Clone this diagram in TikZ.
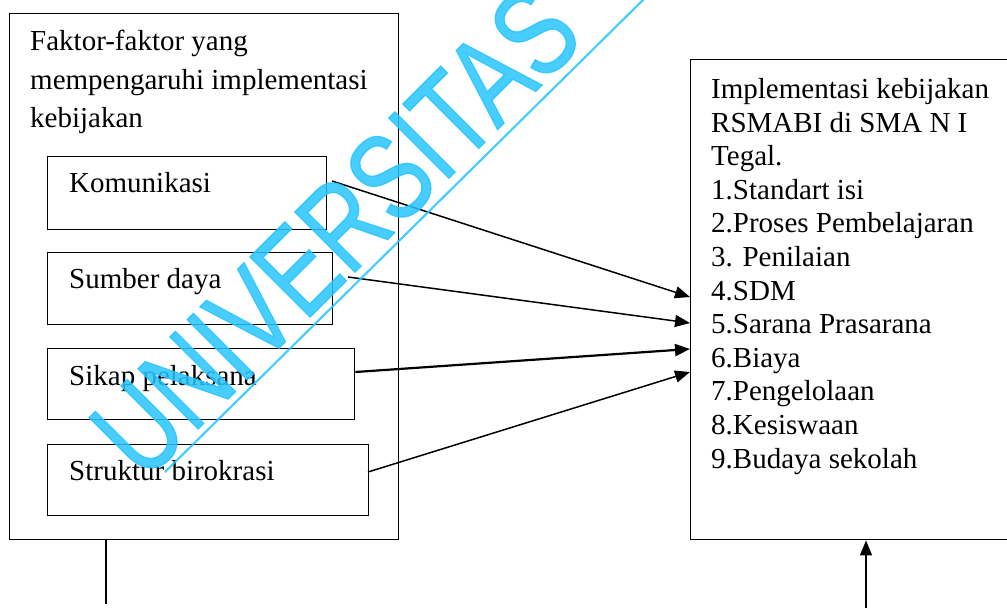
\documentclass[tikz,border=0pt]{standalone}
\usepackage{fontspec}
\setmainfont{Liberation Serif}
\newfontfamily\wmfont[FakeBold=1.2]{Liberation Sans}
\usetikzlibrary{arrows.meta}
\definecolor{wmcyan}{RGB}{40,196,255}
\tikzset{
  box/.style={draw, line width=1.4pt, rectangle, inner sep=0pt, anchor=north west},
  lbl/.style={anchor=base west, inner sep=0pt, font=\fontsize{29}{38}\selectfont},
  conn/.style={line width=1.5pt, -{Triangle[length=15pt,width=12pt]}},
  wmtext/.style={text=wmcyan, opacity=0.85, inner sep=0pt},
}
\begin{document}
\begin{tikzpicture}[x=1pt,y=-1pt]
\useasboundingbox (0,0) rectangle (1007,608);
\clip (0,0) rectangle (1007,608);
% left outer box
\node[box, minimum width=389pt, minimum height=526pt] (L) at (9,13) {};
\node[anchor=north west, inner sep=0pt, align=left, font=\fontsize{29}{38.5}\selectfont] (Ltitle) at (30,30.2)
  {Faktor-faktor yang\\mempengaruhi implementasi\\kebijakan};
% inner boxes
\node[box, minimum width=279pt, minimum height=73pt] (K) at (47,156) {};
\node[box, minimum width=285pt, minimum height=72pt] (S) at (47,252) {};
\node[box, minimum width=307pt, minimum height=71pt] (P) at (47,348) {};
\node[box, minimum width=321pt, minimum height=71pt] (B) at (47,444) {};
\node[lbl] (Kt) at (69,192) {Komunikasi};
\node[lbl] (St) at (69,288) {Sumber daya};
\node[lbl] (Pt) at (69,385) {Sikap pelaksana};
\node[lbl] (Bt) at (69,480) {Struktur birokrasi};
% right box
\node[box, minimum width=340pt, minimum height=480pt] (R) at (690,59) {};
\node[anchor=north west, inner sep=0pt, align=left, font=\fontsize{29}{33.6}\selectfont] (Rtext) at (711,78.2)
  {Implementasi kebijakan\\RSMABI di SMA N I\\Tegal.\\1.Standart isi\\2.Proses Pembelajaran\\3. Penilaian\\4.SDM\\5.Sarana Prasarana\\6.Biaya\\7.Pengelolaan\\8.Kesiswaan\\9.Budaya sekolah};
% connector endpoints
\coordinate (k1) at (332,181);
\coordinate (s1) at (348,277);
\coordinate (b1) at (368,472);
\coordinate (r1) at (690,297);
\coordinate (r2) at (690,323);
\coordinate (r3) at (690,349);
\coordinate (r4) at (690,372);
\draw[conn] (k1) -- (r1);
\draw[conn] (s1) -- (r2);
\draw[conn, line width=2.2pt] (P.east |- 0,372) -- (r3);
\draw[conn] (b1) -- (r4);
% bottom lines
\coordinate (lb) at (106,604);
\draw[line width=1.4pt] (L.south -| lb) -- (lb);
\coordinate (rb) at (866,608);
\draw[conn] (rb) -- (R.south -| rb);
% watermark
\node[wmtext, rotate=45, font=\wmfont\fontsize{95}{95}\selectfont] (wm) at (335.5,231.5) {\scalebox{1}[1.3]{UNIVERSITAS}};
\coordinate (wl1) at (165,472);
\coordinate (wl2) at (645,-2);
\draw[wmcyan, opacity=0.85, line width=2.2pt] (wl1) -- (wl2);
\end{tikzpicture}
\end{document}
